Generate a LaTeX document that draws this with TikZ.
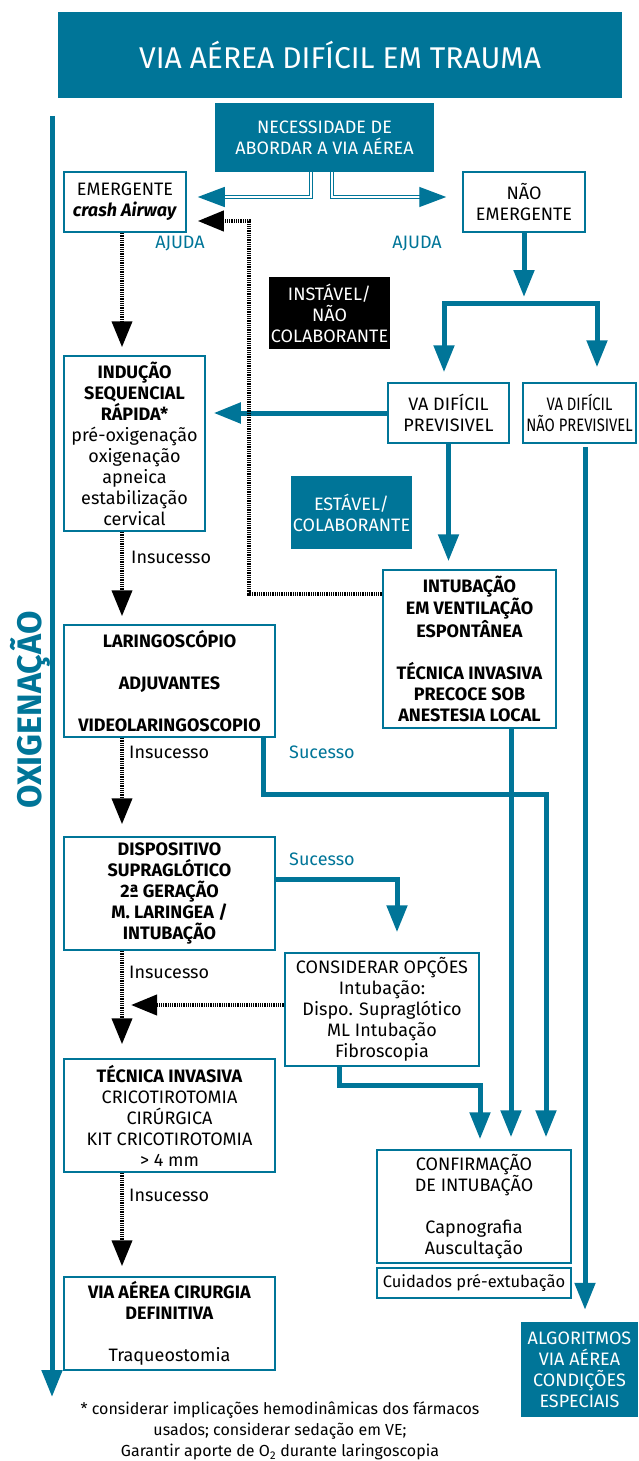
\documentclass[tikz,border=0pt]{standalone}
\usepackage{fontspec}
\setmainfont{Fira Sans}
\usepackage{graphicx}
\usetikzlibrary{arrows.meta,calc,positioning}
\definecolor{abteal}{RGB}{0,117,152}
\tikzset{flow/.style={draw=abteal, line width=5pt, -{Triangle[length=27pt,width=20pt]}},
  hatch/.style={draw=black, line width=4pt, dash pattern=on 0.9pt off 0.9pt, -{Triangle[length=26pt,width=20pt]}},
  dbl/.style={draw=abteal, double=white, double distance=2pt, line width=1.4pt, -{Triangle[length=27pt,width=20pt]}}}

\begin{document}
\begin{tikzpicture}[x=1pt, y=-1pt, font=\fontsize{18}{21}\selectfont]
\tikzstyle{block} = [rectangle, draw=abteal, line width=1.5pt, fill=white, align=center, inner sep=0pt]
\tikzstyle{dark} = [rectangle, fill=abteal, text=white, align=center, inner sep=0pt]
\tikzstyle{note} = [inner sep=0pt, text=abteal]
\useasboundingbox (0,0) rectangle (638,1461);

\node [dark, minimum width=564pt, minimum height=86pt, font=\fontsize{30}{32}\selectfont](title) at (340,55){VIA AÉREA DIFÍCIL EM TRAUMA};
\node [dark, minimum width=219pt, minimum height=69pt](need) at (324.5,137.5){NECESSIDADE DE\\ABORDAR A VIA AÉREA};
\node [block, minimum width=122pt, minimum height=60pt](emerg) at (125,202){EMERGENTE\\\textbf{\textit{crash Airway}}};
\node [block, minimum width=122pt, minimum height=60pt](naoemerg) at (524,202){NÃO\\EMERGENTE};
\node [dark, fill=black, minimum width=121pt, minimum height=72pt](instavel) at (329.5,313){INSTÁVEL/\\NÃO\\COLABORANTE};
\node [block, minimum width=121pt, minimum height=60pt](previs) at (448.5,413){VA DIFÍCIL\\PREVISIVEL};
\node [block, minimum width=113pt, minimum height=60pt](naoprevis) at (579.5,413){\scalebox{0.82}[1]{VA DIFÍCIL}\\\scalebox{0.82}[1]{NÃO PREVISIVEL}};
\node [block, minimum width=141pt, minimum height=175pt](isr) at (134.5,443.5){\textbf{INDUÇÃO}\\\textbf{SEQUENCIAL}\\\textbf{RÁPIDA*}\\pré-oxigenação\\oxigenação\\apneica\\estabilização\\cervical};
\node [dark, minimum width=121pt, minimum height=73pt](estavel) at (351.5,512.5){ESTÁVEL/\\COLABORANTE};
\node [block, minimum width=173pt, minimum height=158pt](intub) at (469.5,649){\textbf{INTUBAÇÃO}\\\textbf{EM VENTILAÇÃO}\\\textbf{ESPONTÂNEA}\\[21pt]\textbf{TÉCNICA INVASIVA}\\\textbf{PRECOCE SOB}\\\textbf{ANESTESIA LOCAL}};
\node [block, minimum width=211pt, minimum height=112pt](laring) at (169.5,681){\textbf{LARINGOSCÓPIO}\\[21pt]\textbf{ADJUVANTES}\\[21pt]\textbf{VIDEOLARINGOSCOPIO}};
\node [block, minimum width=211pt, minimum height=113pt](supra) at (169.5,893.5){\textbf{DISPOSITIVO}\\\textbf{SUPRAGLÓTICO}\\\textbf{2ª GERAÇÃO}\\\textbf{M. LARINGEA /}\\\textbf{INTUBAÇÃO}};
\node [block, minimum width=194pt, minimum height=113pt](opcoes) at (382,1009.5){CONSIDERAR OPÇÕES\\Intubação:\\Dispo. Supraglótico\\ML Intubação\\Fibroscopia};
\node [block, minimum width=211pt, minimum height=113pt](invasiva) at (169.5,1115.5){\textbf{TÉCNICA INVASIVA}\\CRICOTIROTOMIA\\CIRÚRGICA\\KIT CRICOTIROTOMIA\\> 4 mm};
\node [block, minimum width=194pt, minimum height=113pt](confirm) at (474,1206.5){CONFIRMAÇÃO\\DE INTUBAÇÃO\\[21pt]Capnografia\\Auscultação};
\node [block, minimum width=194pt, minimum height=30pt, font=\fontsize{16.5}{20}\selectfont](cuidados) at (474,1283){Cuidados pré-extubação};
\node [block, minimum width=211pt, minimum height=93pt](cirurgia) at (169.5,1323.5){\textbf{VIA AÉREA CIRURGIA}\\\textbf{DEFINITIVA}\\[21pt]Traqueostomia};
\node [dark, minimum width=117pt, minimum height=95pt](algoritmos) at (579.5,1369.5){ALGORITMOS\\VIA AÉREA\\CONDIÇÕES\\ESPECIAIS};
\node [align=center, font=\fontsize{16}{21}\selectfont](nota) at (280,1431){* considerar implicações hemodinâmicas dos fármacos\\usados; considerar sedação em VE;\\Garantir aporte de O\textsubscript{2} durante laringoscopia};

\node [rotate=90, text=abteal, font=\fontsize{34}{36}\selectfont\bfseries](oxig) at (30,710){OXIGENAÇÃO};
\node [note](ajuda1) at (180,244){AJUDA};
\node [note](ajuda2) at (417,244){AJUDA};
\node [inner sep=0pt, anchor=west](ins1) at (131,557){Insucesso};
\node [inner sep=0pt, anchor=west](ins2) at (129,752){Insucesso};
\node [inner sep=0pt, anchor=west](ins3) at (129,972){Insucesso};
\node [inner sep=0pt, anchor=west](ins4) at (129,1195){Insucesso};
\node [note, anchor=west](suc1) at (289,752){Sucesso};
\node [note, anchor=west](suc2) at (289,859){Sucesso};

\coordinate (oxtop) at (52,116);
\coordinate (oxend) at (52,1397);
\coordinate (col) at (122,0);
\coordinate (dblL) at (224,197);
\coordinate (dblR) at (420,197);
\coordinate (hbend) at (249,221);
\coordinate (fork) at (521,303);
\coordinate (opc) at ([yshift=4.5pt]opcoes.west);

% oxigenacao
\draw [flow] (oxtop) -- (oxend);

% necessidade
\draw [dbl, shorten >=11pt] ([xshift=-13.5pt]need.south) |- (emerg.east |- dblL);
\draw [dbl, shorten >=16pt] ([xshift=7.5pt]need.south) |- (naoemerg.west |- dblR);

% nao emergente
\draw [flow, shorten >=6pt] (naoemerg.south) -- (naoemerg.south |- fork);
\draw [flow, shorten >=10pt] (fork) -| ([xshift=-4.5pt]previs.north);
\draw [flow, shorten >=15pt] (fork) -| ([xshift=17.5pt]naoprevis.north);
\draw [flow, shorten >=8pt] (previs.west) -- (isr.east |- previs.west);
\draw [flow, shorten >=8pt] (previs.south) -- (previs.south |- intub.north);
\draw [hatch, shorten >=11pt] ([yshift=55pt]intub.west) -| (hbend) -- (emerg.east |- hbend);

% coluna esquerda
\draw [hatch, shorten >=8pt] (col |- emerg.south) -- (col |- isr.north);
\draw [hatch, shorten >=8pt] (col |- isr.south) -- (col |- laring.north);
\draw [hatch, shorten >=12pt] (col |- laring.south) -- (col |- supra.north);
\draw [hatch, shorten >=14pt] (col |- supra.south) -- (col |- invasiva.north);
\draw [hatch, shorten >=10pt] (col |- invasiva.south) -- (col |- cirurgia.north);
\draw [hatch, shorten >=9pt] (opc) -- (col |- opc);

% sucesso
\draw [flow, shorten >=12pt] ([xshift=-12pt]laring.south east) -- ++(0,57) -| ([xshift=72pt]confirm.north);
\draw [flow, shorten >=12pt] ([xshift=41.5pt]intub.south) -- ([xshift=41.5pt]intub.south |- confirm.north);
\draw [flow, shorten >=10pt] ([xshift=-43pt]opcoes.south) -- ++(0,19) -| ([xshift=6pt]confirm.north);
\draw [flow, shorten >=20pt] ([yshift=14.5pt]supra.east) -| ([xshift=15pt]opcoes.north);
\draw [flow, shorten >=12pt] ([shift={(5.5pt,-3pt)}]naoprevis.south) -- ([xshift=5.5pt]naoprevis.south |- algoritmos.north);

\end{tikzpicture}
\end{document}
